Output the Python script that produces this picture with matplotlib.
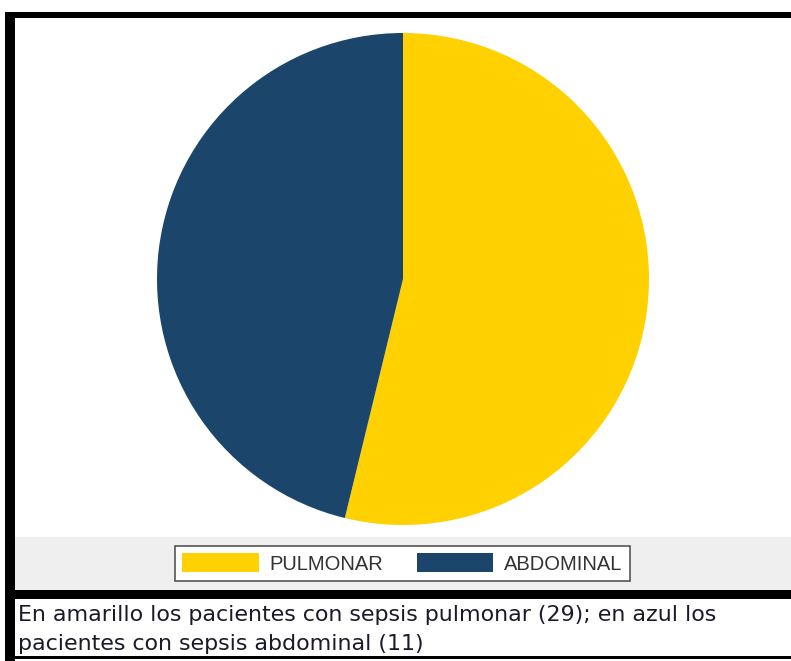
import matplotlib
matplotlib.use("Agg")
import matplotlib.pyplot as plt
from matplotlib.patches import Rectangle, Patch

# slices (share of patients)
labels = ["PULMONAR", "ABDOMINAL"]
shares = [53.8, 46.2]
colours = ["#FFD100", "#1B456B"]
caption = ("En amarillo los pacientes con sepsis pulmonar (29); en azul los\n"
           "pacientes con sepsis abdominal (11)")

W, H = 791, 661
fig = plt.figure(figsize=(W / 100, H / 100), dpi=100)
fig.patch.set_facecolor("white")

def px_rect(x0, y0, x1, y1, color, z=0):
	# rectangle given in pixel coords from the top-left corner
	fig.patches.append(Rectangle((x0 / W, 1 - y1 / H), (x1 - x0) / W, (y1 - y0) / H,
		transform=fig.transFigure, facecolor=color, edgecolor="none", zorder=z))

# grey band behind the legend
px_rect(15, 537, W, 590, "#EFEFEF")
# frame lines
px_rect(5, 12, W, 18, "black", 2)
px_rect(5, 12, 15, H, "black", 2)
px_rect(5, 590, W, 599, "black", 2)
px_rect(5, 656, W, 659, "black", 2)

# pie axes: centre (403, 279), radius 246 px
cx, cy, r = 403, 279, 246
ax = fig.add_axes([(cx - r) / W, 1 - (cy + r) / H, 2 * r / W, 2 * r / H])
ax.pie(shares, colors=colours, startangle=90, counterclock=False, radius=1,
	wedgeprops=dict(linewidth=0))
ax.set_xlim(-1, 1)
ax.set_ylim(-1, 1)
ax.set_aspect("equal")
ax.axis("off")

handles = [Patch(facecolor=c, edgecolor="none") for c in colours]
leg = fig.legend(handles, labels, loc="center", bbox_to_anchor=(402.5 / W, 1 - 563.5 / H),
	ncol=2, frameon=True, fancybox=False, edgecolor="#555555", facecolor="white",
	prop=dict(family="Liberation Sans", size=14.5), handlelength=3.8, handleheight=1.05,
	handletextpad=0.55, columnspacing=1.65, borderpad=0.35, framealpha=1)
leg.get_frame().set_linewidth(1.2)
for t in leg.get_texts():
	t.set_color("#333333")

fig.text(18 / W, 1 - 605 / H, caption, ha="left", va="top", fontsize=15.9,
	family="DejaVu Sans", color="#1a1a2a", linespacing=1.55)

fig.savefig("out.png", dpi=100)
